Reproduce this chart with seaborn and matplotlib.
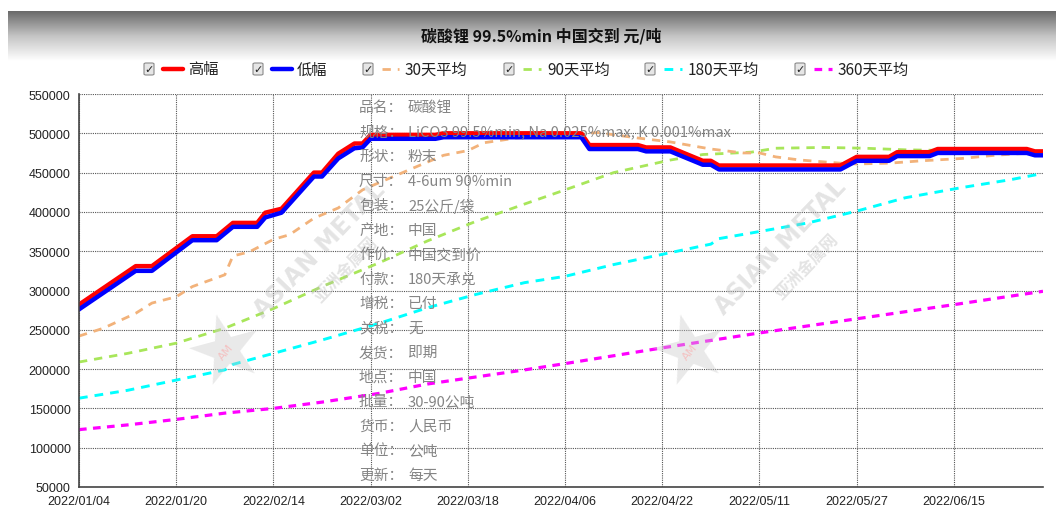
import numpy as np
import matplotlib
matplotlib.use("Agg")
import matplotlib.pyplot as plt
import seaborn as sns
from matplotlib.colors import LinearSegmentedColormap
from matplotlib.lines import Line2D
from matplotlib.patches import FancyBboxPatch

# -------------------------------------------------------
# DATA (trading-day index -> price)
# -------------------------------------------------------
date_ticks = [0, 12, 24, 36, 48, 60, 72, 84, 96, 108]
date_labels = ["2022/01/04", "2022/01/20", "2022/02/14", "2022/03/02", "2022/03/18",
               "2022/04/06", "2022/04/22", "2022/05/11", "2022/05/27", "2022/06/15"]

high_idx = [0, 7, 9, 14, 17, 19, 22, 23, 25, 29, 30, 32, 34, 35, 36, 44, 45, 62, 63, 69,
            70, 73, 77, 78, 79, 94, 96, 100, 101, 105, 106, 117, 118, 119]
high = [282000, 331000, 331000, 369000, 369000, 386000, 386000, 399000, 404000, 450000,
        450000, 474000, 487000, 487000, 498000, 498000, 500000, 500000, 485000, 485000,
        482000, 482000, 465000, 465000, 459000, 459000, 470000, 470000, 476000, 476000,
        480000, 480000, 477000, 477000]
low = [276000, 325000, 325000, 364000, 364000, 381000, 381000, 393000, 399000, 445000,
       445000, 468000, 481000, 482000, 493000, 493000, 495000, 495000, 480000, 480000,
       477000, 477000, 460000, 460000, 454000, 454000, 465000, 465000, 471000, 471000,
       475000, 475000, 472000, 472000]

ma30_idx = [0, 3, 7, 9, 12, 14, 18, 19, 21, 24, 26, 29, 32, 35, 37, 42, 45, 48, 50, 54,
            59, 64, 69, 73, 78, 82, 84, 86, 89, 94, 96, 100, 104, 109, 113, 119]
ma30 = [242000, 252000, 271000, 284000, 292000, 305000, 320000, 344000, 349000, 365000,
        371000, 392000, 405000, 428000, 437000, 459000, 472000, 478000, 488000, 494000,
        497000, 501000, 494000, 489000, 480000, 475000, 475000, 470000, 466000, 462000,
        461000, 462000, 465000, 468000, 472000, 476000]

ma90_idx = [0, 6, 12, 18, 24, 30, 37, 43, 49, 55, 60, 66, 73, 77, 83, 86, 92, 97, 102, 108, 119]
ma90 = [209000, 220000, 233000, 252000, 277000, 305000, 335000, 363000, 388000, 410000,
        428000, 450000, 466000, 473000, 476000, 481000, 482000, 481000, 479000, 478000, 477000]

ma180_idx = [0, 6, 12, 18, 19, 24, 30, 37, 43, 49, 55, 60, 66, 72, 78, 79, 84, 90, 96,
             102, 109, 115, 119]
ma180 = [163000, 173000, 186000, 199000, 206000, 220000, 237000, 258000, 278000, 295000,
         310000, 318000, 333000, 346000, 359000, 366000, 375000, 386000, 401000, 418000,
         431000, 441000, 449000]

ma360_idx = [0, 6, 12, 18, 24, 30, 37, 43, 49, 55, 60, 72, 84, 96, 108, 119]
ma360 = [123000, 129000, 136000, 144000, 150000, 158000, 169000, 181000, 190000, 199000,
         207000, 227000, 246000, 264000, 282000, 299000]

y_ticks = [50000, 100000, 150000, 200000, 250000, 300000, 350000, 400000, 450000, 500000, 550000]

title = "碳酸锂 99.5%min 中国交到 元/吨"
legend_names = ["高幅", "低幅", "30天平均", "90天平均", "180天平均", "360天平均"]
info_keys = ["品名：", "规格：", "形状：", "尺寸：", "包装：", "产地：", "作价：", "付款：",
             "增税：", "关税：", "发货：", "地点：", "批量：", "货币：", "单位：", "更新："]
info_vals = ["碳酸锂", "LiCO3 99.5%min, Na 0.025%max, K 0.001%max", "粉末", "4-6um 90%min",
             "25公斤/袋", "中国", "中国交到价", "180天承兑", "已付", "无", "即期", "中国",
             "30-90公吨", "人民币", "公吨", "每天"]

# -------------------------------------------------------
# STYLE
# -------------------------------------------------------
sns.set_style("white")
plt.rcParams['font.family'] = ['Noto Sans CJK SC', 'DejaVu Sans']

W, H = 1056, 510


def fx(px):
    return px / W


def fy(py):
    return 1 - py / H


fig = plt.figure(figsize=(W / 100, H / 100), dpi=100)

# title band with grey gradient
band = fig.add_axes([fx(8), fy(62), 1 - fx(8), (62 - 12) / H])
band_cmap = LinearSegmentedColormap.from_list("band", ["#6a6a6a", "#c4c4c4", "#ffffff"])
band.imshow(np.linspace(0, 1, 100).reshape(-1, 1), aspect="auto", cmap=band_cmap)
band.axis("off")
fig.text(fx(541), fy(36), title, ha="center", va="center", fontsize=11.5,
         fontweight="bold", color="#111111")

# -------------------------------------------------------
# MAIN AXES
# -------------------------------------------------------
ax = fig.add_axes([fx(79), fy(488), fx(1043) - fx(79), (488 - 95) / H])

series = [
    (ma360_idx, ma360, "#ff00ff", 2.3, (0, (2.4, 2.0))),
    (ma180_idx, ma180, "#00ffff", 2.1, (0, (3.0, 2.4))),
    (ma90_idx, ma90, "#a8e65a", 2.0, (0, (3.0, 2.5))),
    (ma30_idx, ma30, "#f2b27a", 2.0, (0, (3.0, 2.5))),
    (high_idx, high, "#ff0000", 3.2, "-"),
    (high_idx, low, "#0000ff", 3.2, "-"),
]
for xs, ys, col, lw, ls in series:
    sns.lineplot(x=xs, y=ys, ax=ax, color=col, linewidth=lw, linestyle=ls,
                 estimator=None, sort=False)

ax.set_xlim(0, 119)
ax.set_ylim(50000, 550000)
ax.set_xticks(date_ticks)
ax.set_xticklabels(date_labels)
ax.set_yticks(y_ticks)
ax.set_yticklabels([str(v) for v in y_ticks])
ax.grid(True, color="#555555", linestyle=(0, (1, 1)), linewidth=0.8)
for side in ["top", "right"]:
    ax.spines[side].set_visible(False)
for side in ["left", "bottom"]:
    ax.spines[side].set_color("#444444")
    ax.spines[side].set_linewidth(1.2)
ax.tick_params(axis="both", direction="out", length=4, width=1, color="#444444",
               labelsize=9, labelcolor="#222222", pad=2)
for lab in ax.get_xticklabels() + ax.get_yticklabels():
    lab.set_fontfamily("Liberation Sans")

# -------------------------------------------------------
# WATERMARKS
# -------------------------------------------------------
for cx, cy, sx, sy, stx, sty in [(320, 250, 346, 270, 226, 352), (781, 247, 807, 267, 690, 352)]:
    fig.text(fx(cx), fy(cy), "ASIAN METAL", rotation=46, fontsize=17, fontweight="bold",
             color="#bbbbbb", alpha=0.4, ha="center", va="center", family=["DejaVu Sans"])
    fig.text(fx(sx), fy(sy), "亚洲金属网", rotation=46, fontsize=12, fontweight="bold",
             color="#bbbbbb", alpha=0.4, ha="center", va="center")
    fig.text(fx(stx), fy(sty), "★", rotation=15, fontsize=66, color="#c8c8c8", alpha=0.4,
             ha="center", va="center", family=["DejaVu Sans"])
    fig.text(fx(stx), fy(sty), "AM", rotation=50, fontsize=8, color="#ff9999", alpha=0.5,
             ha="center", va="center", family=["DejaVu Sans"])

# -------------------------------------------------------
# INFO BLOCK
# -------------------------------------------------------
for i, (k, v) in enumerate(zip(info_keys, info_vals)):
    yy = 108 + i * 24.53
    fig.text(fx(359), fy(yy), k, fontsize=10.6, color="#858585", va="center")
    fig.text(fx(408), fy(yy), v, fontsize=10.6, color="#858585", va="center")

# -------------------------------------------------------
# LEGEND WITH CHECKBOXES
# -------------------------------------------------------
legend_pos = [(149, 188), (258, 297), (368, 405), (509, 547), (650, 688), (800, 838)]
legend_styles = [series[4], series[5], series[3], series[2], series[1], series[0]]
ly = 70
for (cbx, tx), name, st in zip(legend_pos, legend_names, legend_styles):
    box = FancyBboxPatch((fx(cbx - 5), fy(ly + 6)), 10 / W, 12 / H,
                         boxstyle="round,pad=0,rounding_size=0.002",
                         transform=fig.transFigure, facecolor="#e6e6e6",
                         edgecolor="#8a8a8a", linewidth=0.8)
    fig.patches.append(box)
    fig.text(fx(cbx), fy(ly), "✓", fontsize=8, color="#222222", ha="center",
             va="center", family=["DejaVu Sans"], fontweight="bold")
    x0, x1 = cbx + 14, tx - 6
    if st[4] == "-":
        x1 = cbx + 34
    fig.lines.append(Line2D([fx(x0), fx(x1)], [fy(ly), fy(ly)], transform=fig.transFigure,
                            color=st[2], linewidth=st[3], linestyle=st[4]))
    fig.text(fx(tx), fy(ly), name, fontsize=11, color="#222222", va="center")

fig.savefig("out.png", dpi=100)
